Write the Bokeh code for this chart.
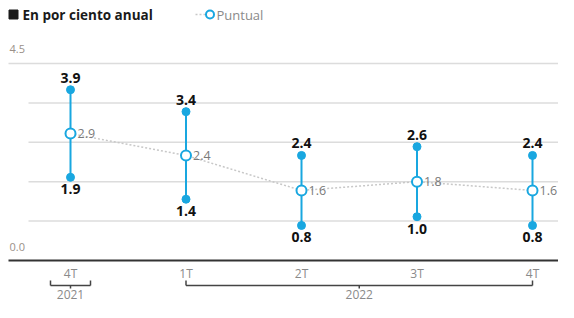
from bokeh.plotting import figure
from bokeh.models import Range1d, ColumnDataSource
from bokeh.core.properties import value
from bokeh.embed import file_html
from bokeh.resources import INLINE

# ---- data ----
quarters = ["4T", "1T", "2T", "3T", "4T"]
high = [3.9, 3.4, 2.4, 2.6, 2.4]
low = [1.9, 1.4, 0.8, 1.0, 0.8]
puntual = [2.9, 2.4, 1.6, 1.8, 1.6]
years = ["2021", "2022"]
year_first = [0, 1]
year_last = [0, 4]
grid_vals = [0.9, 1.8, 2.7, 3.6]
y_top = 4.5
y_labels = ["4.5", "0.0"]
legend_main = "En por ciento anual"
legend_series = "Puntual"

# ---- layout (pixels within the figure) ----
W, H = 558, 302
X0, DX = 70.0, 115.5       # pixel x of first category, spacing
Y0, PPU = 260.0, 43.78     # pixel y of value 0, pixels per unit
LEG_Y = 14

def fx(px):
    return (px - X0) / DX

def fy(py):
    return (Y0 - py) / PPU

BLUE = "#19a7e0"
FONT = value("Open Sans")

xs = list(range(len(quarters)))

p = figure(width=W, height=H, x_range=Range1d(fx(0), fx(W)), y_range=Range1d(fy(H), fy(0)),
           output_backend="svg", toolbar_location=None, min_border=0,
           x_axis_location=None, y_axis_location=None)
p.grid.visible = False
p.outline_line_color = None
p.background_fill_color = "white"

# gridlines
p.segment(x0=[fx(28)] * len(grid_vals), y0=grid_vals, x1=[fx(W)] * len(grid_vals), y1=grid_vals,
          line_color="#dcdcdc", line_width=1.5)
p.segment(x0=[fx(8)], y0=[y_top], x1=[fx(W)], y1=[y_top], line_color="#dcdcdc", line_width=1.5)
# baseline
p.segment(x0=[fx(8)], y0=[0], x1=[fx(W)], y1=[0], line_color="#333333", line_width=2)

# y labels
p.text(x=[fx(9), fx(9)], y=[y_top, 0], text=y_labels, y_offset=-14,
       text_font=FONT, text_font_size="11px", text_color="#9a9088",
       text_baseline="middle", text_align="left")

src = ColumnDataSource(dict(x=xs, high=high, low=low, puntual=puntual, q=quarters,
                            zero=[0] * len(xs),
                            hl=[f"{v:.1f}" for v in high], ll=[f"{v:.1f}" for v in low],
                            pl=[f"{v:.1f}" for v in puntual]))

# dotted puntual line
p.line("x", "puntual", source=src, line_color="#c8c8c8", line_width=1.5, line_dash="2 2")
# ranges
p.segment(x0="x", y0="low", x1="x", y1="high", source=src, line_color=BLUE, line_width=2)
p.scatter("x", "high", source=src, size=8, color=BLUE)
p.scatter("x", "low", source=src, size=8, color=BLUE)
p.scatter("x", "puntual", source=src, size=10, fill_color="white", line_color=BLUE, line_width=2)

# value labels
p.text("x", "high", text="hl", source=src, y_offset=-7, text_font=FONT, text_font_size="14px",
       text_font_style="bold", text_color="#111111", text_align="center", text_baseline="bottom")
p.text("x", "low", text="ll", source=src, y_offset=7, text_font=FONT, text_font_size="14px",
       text_font_style="bold", text_color="#111111", text_align="center", text_baseline="top")
p.text("x", "puntual", text="pl", source=src, x_offset=7, text_font=FONT, text_font_size="12.5px",
       text_color="#7a7a7a", text_align="left", text_baseline="middle")

# x labels
p.text("x", "zero", text="q", source=src, y_offset=13, text_font=FONT, text_font_size="12px",
       text_color="#8a8a8a", text_align="center", text_baseline="middle")

# year brackets
pad = 20.0 / DX
yb = fy(Y0 + 25)
yt = fy(Y0 + 20)
yd = fy(Y0 + 28)
bx0, bx1, bc = [], [], []
for a, b in zip(year_first, year_last):
    l = a - pad if a == b else a
    r = b + pad if a == b else b
    bx0.append(l)
    bx1.append(r)
    bc.append((a + b) / 2)
n = len(years)
p.segment(x0=bx0, y0=[yb] * n, x1=bx1, y1=[yb] * n, line_color="#444444", line_width=1.5)
p.segment(x0=bx0, y0=[yt] * n, x1=bx0, y1=[yb] * n, line_color="#444444", line_width=1.5)
p.segment(x0=bx1, y0=[yt] * n, x1=bx1, y1=[yb] * n, line_color="#444444", line_width=1.5)
p.segment(x0=bc, y0=[yb] * n, x1=bc, y1=[yd] * n, line_color="#444444", line_width=1.5)
p.text(x=bc, y=[fy(H - 4)] * n, text=years, text_font=FONT, text_font_size="12px",
       text_color="#8a8a8a", text_align="center", text_baseline="bottom")

# legend
p.scatter(x=[fx(13)], y=[fy(LEG_Y)], marker="square", size=9, color="#1a1a1a")
p.text(x=[fx(22)], y=[fy(LEG_Y)], text=[legend_main], text_font=FONT, text_font_size="13.5px",
       text_font_style="bold", text_color="#1a1a1a", text_align="left", text_baseline="middle")
p.segment(x0=[fx(195)], y0=[fy(LEG_Y)], x1=[fx(214)], y1=[fy(LEG_Y)], line_color="#c8c8c8",
          line_width=1.5, line_dash="2 2")
p.scatter(x=[fx(209.5)], y=[fy(LEG_Y)], size=8, fill_color="white", line_color=BLUE, line_width=2)
p.text(x=[fx(216)], y=[fy(LEG_Y)], text=[legend_series], text_font=FONT, text_font_size="13px",
       text_color="#8a8a8a", text_align="left", text_baseline="middle")

open("out.html", "w").write(file_html(p, INLINE))
